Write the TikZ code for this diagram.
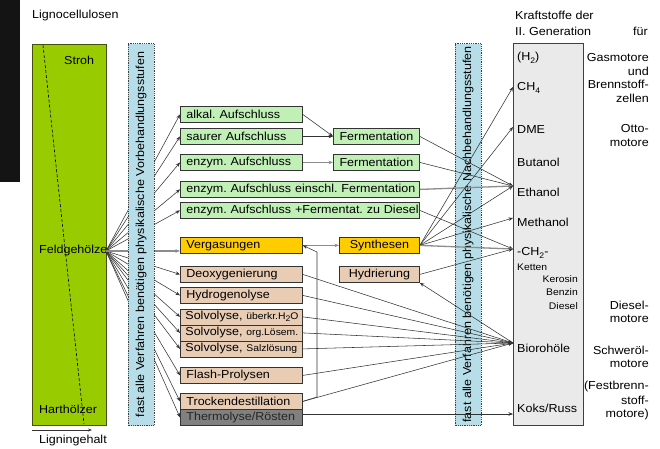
\documentclass[tikz,border=0pt]{standalone}
\usepackage{fontspec}
\setmainfont{Liberation Sans}[FakeStretch=1.08]
\usetikzlibrary{arrows.meta}
\frenchspacing
\definecolor{ligcol}{RGB}{153,204,0}
\definecolor{ligdraw}{RGB}{70,80,10}
\definecolor{bluecol}{RGB}{183,222,232}
\definecolor{gbox}{RGB}{192,240,182}
\definecolor{obox}{RGB}{255,204,0}
\definecolor{tbox}{RGB}{232,204,180}
\definecolor{kbox}{RGB}{128,128,128}
\definecolor{fbox}{RGB}{234,234,234}
\newcommand\lowidx[1]{\raisebox{-0.4ex}{\fontsize{8}{8}\selectfont #1}}
\newcommand\smallf{\fontsize{9.6}{10}\selectfont}
\begin{document}
\begin{tikzpicture}[x=1pt,y=-1pt,
  font=\fontsize{11.6}{13}\selectfont\frenchspacing,
  every node/.style={inner sep=0pt},
  lbl/.style={anchor=west},
  rlbl/.style={anchor=east},
  lbox/.style={draw=black!80, line width=0.8pt, anchor=north west, minimum height=16pt,
    inner xsep=6pt, inner ysep=0pt, text width=#1, align=left},
  cbox/.style={draw=black!80, line width=0.8pt, anchor=north west, minimum height=16pt,
    minimum width=#1},
  bluebox/.style={draw=black!75, densely dotted, line width=0.8pt, fill=bluecol,
    rotate=90, minimum width=382pt, minimum height=26pt},
  arr/.style={draw=black!80, line width=0.55pt, -{Stealth[length=4.5pt,width=3.5pt]}},
  garr/.style={draw=black!45, line width=1.3pt, -{Stealth[length=4.5pt,width=3.5pt]}}]
\useasboundingbox (0,0) rectangle (660,448);
\fill[black!92] (0,0) rectangle (20,182);

% Lignocellulose column
\node[lbl] (tlig) at (32,15) {Lignocellulosen};
\node[draw=ligdraw, fill=ligcol, line width=0.8pt, anchor=north west,
  minimum width=74pt, minimum height=381pt] (lig) at (32,44) {};
\draw[densely dashed, line width=0.6pt] (43,45) -- (84,424);
\node[lbl] (stroh) at (64,60) {Stroh};
\node[lbl] (feldt) at (39,250) {Feldgehölze};
\node[lbl] (hart) at (39,409) {Harthölzer};
\coordinate (feld) at (106,251);
\coordinate (ga) at (32,430);
\coordinate (gb) at (92,430);
\draw[draw=black!80, line width=0.6pt, -{Stealth[length=4pt,width=3pt]}] (ga) -- (gb);
\node[lbl] (lgh) at (39,440) {Ligningehalt};

% middle boxes
\node[lbox=110pt, fill=gbox] (alk) at (180,106) {\mbox{alkal. Aufschluss}};
\node[lbox=110pt, fill=gbox] (saur) at (180,128) {\mbox{saurer Aufschluss}};
\node[cbox=86pt, fill=gbox] (ferm1) at (333,128) {Fermentation};
\node[lbox=110pt, fill=gbox] (enz) at (180,154) {\mbox{enzym. Aufschluss}};
\node[cbox=86pt, fill=gbox] (ferm2) at (333,154) {Fermentation};
\node[lbox=227pt, fill=gbox] (einschl) at (180,181) {\mbox{enzym. Aufschluss einschl. Fermentation}};
\node[lbox=227pt, fill=gbox] (dies) at (180,202) {\mbox{enzym. Aufschluss +Fermentat. zu Diesel}};
\node[lbox=110pt, fill=obox] (verg) at (180,237) {\mbox{Vergasungen}};
\node[cbox=80pt, fill=obox] (synth) at (339,237) {Synthesen};
\node[lbox=110pt, fill=tbox] (deox) at (180,266) {\mbox{Deoxygenierung}};
\node[cbox=80pt, fill=tbox] (hydr) at (339,266) {Hydrierung};
\node[lbox=110pt, fill=tbox] (hydro) at (180,287) {\mbox{Hydrogenolyse}};
\node[lbox=110pt, fill=tbox, inner xsep=5pt, text width=112pt] (solv1) at (180,308.5) {\mbox{Solvolyse, {\smallf überkr.H\lowidx{2}O}}};
\node[lbox=110pt, fill=tbox, inner xsep=5pt, text width=112pt] (solv2) at (180,324.5) {\mbox{Solvolyse, {\smallf org.Lösem.}}};
\node[lbox=110pt, fill=tbox, inner xsep=5pt, text width=112pt] (solv3) at (180,340.5) {\mbox{Solvolyse, {\smallf Salzlösung}}};
\node[lbox=110pt, fill=tbox] (flash) at (180,367) {\mbox{Flash-Prolysen}};
\node[lbox=110pt, fill=tbox] (trock) at (180,393) {\mbox{Trockendestillation}};
\node[lbox=110pt, fill=kbox, text=black!85] (therm) at (180,409) {\mbox{Thermolyse/Rösten}};

% fuel column
\node[lbl] (kr1) at (515,15) {Kraftstoffe der};
\node[lbl] (kr2) at (515,31) {II. Generation};
\node[rlbl] (fuer) at (648,31) {für};
\node[draw=black!75, fill=fbox, line width=0.8pt, anchor=north west,
  minimum width=70pt, minimum height=382pt] (fuel) at (513,43) {};
\node[lbl] (h2) at (517,58) {(H\lowidx{2})};
\node[lbl] (ch4) at (517,88) {CH\lowidx{4}};
\node[lbl] (dme) at (517,130) {DME};
\node[lbl] (but) at (517,162) {Butanol};
\node[lbl] (eth) at (517,192) {Ethanol};
\node[lbl] (meth) at (517,222) {Methanol};
\node[lbl] (ch2) at (517,253) {-CH\lowidx{2}-};
\node[lbl, font=\smallf] (ket) at (517,267) {Ketten};
\node[rlbl, font=\smallf] (ker) at (578,279) {Kerosin};
\node[rlbl, font=\smallf] (benz) at (578,292) {Benzin};
\node[rlbl, font=\smallf] (dsl) at (578,306) {Diesel};
\node[lbl] (bio) at (517,348) {Biorohöle};
\node[lbl] (koks) at (517,408) {Koks/Russ};

% engine labels
\node[rlbl] (e1) at (649,58) {Gasmotore};
\node[rlbl] (e2) at (649,71) {und};
\node[rlbl] (e3) at (649,84) {Brennstoff-};
\node[rlbl] (e4) at (649,98) {zellen};
\node[rlbl] (e5) at (649,128) {Otto-};
\node[rlbl] (e6) at (649,143) {motore};
\node[rlbl] (e7) at (649,305) {Diesel-};
\node[rlbl] (e8) at (649,319) {motore};
\node[rlbl] (e9) at (649,350) {Schweröl-};
\node[rlbl] (e10) at (649,364) {motore};
\node[rlbl] (e11) at (649,386) {(Festbrenn-};
\node[rlbl] (e12) at (649,400) {stoff-};
\node[rlbl] (e13) at (649,414) {motore)};

% right blue box (below connectors)
\node[bluebox] (nb) at (468,234.5) {fast alle Verfahren benötigen physikalische Nachbehandlungsstufen};

% connectors from Feldgehoelze
\foreach \t in {alk,saur,enz,einschl,dies,deox,hydro,solv1,solv2,solv3,flash,trock,therm}
  \draw[arr] (feld) -- (\t.west);
\draw[garr] (feld) -- (verg.west |- feld);

% left blue box (on top of the fan)
\node[bluebox] (vb) at (141,234.5) {fast alle Verfahren benötigen physikalische Vorbehandlungsstufen};

% targets on the fuel column
\coordinate (tch4) at (513,87);
\coordinate (tdme) at (513,127);
\coordinate (teth) at (513,186);
\coordinate (tmeth) at (513,218);
\coordinate (tch2) at (513,249);
\coordinate (tbio) at (513,343);
\coordinate (tkoks) at (513,414);

\draw[arr] (alk.east) -- (ferm1.west);
\draw[arr] (saur.east) -- (ferm1.west);
\draw[garr] (enz.east) -- (ferm2.west);
\draw[garr] (verg.east) -- (synth.west);
\draw[arr] (ferm1.east) -- (teth);
\draw[arr] (ferm2.east) -- (teth);
\draw[garr] (einschl.east) -- (teth);
\draw[arr] (dies.east) -- (tch2);
\foreach \t in {tch4,tdme,teth,tmeth}
  \draw[arr] (synth.east) -- (\t);
\draw[garr] (synth.east) -- (tch2);
\draw[arr] (hydr.east) -- (tch2);
\draw[arr] (tbio) -- (hydr.south east);
\foreach \s in {deox,hydro,solv1,solv2,solv3,flash,trock}
  \draw[arr] (\s.east) -- (tbio);
\draw[arr] (therm.east |- tkoks) -- (tkoks);
\draw[arr] (trock.east) -- (317,397) -- (317,252) -- (verg.east);
\end{tikzpicture}
\end{document}
